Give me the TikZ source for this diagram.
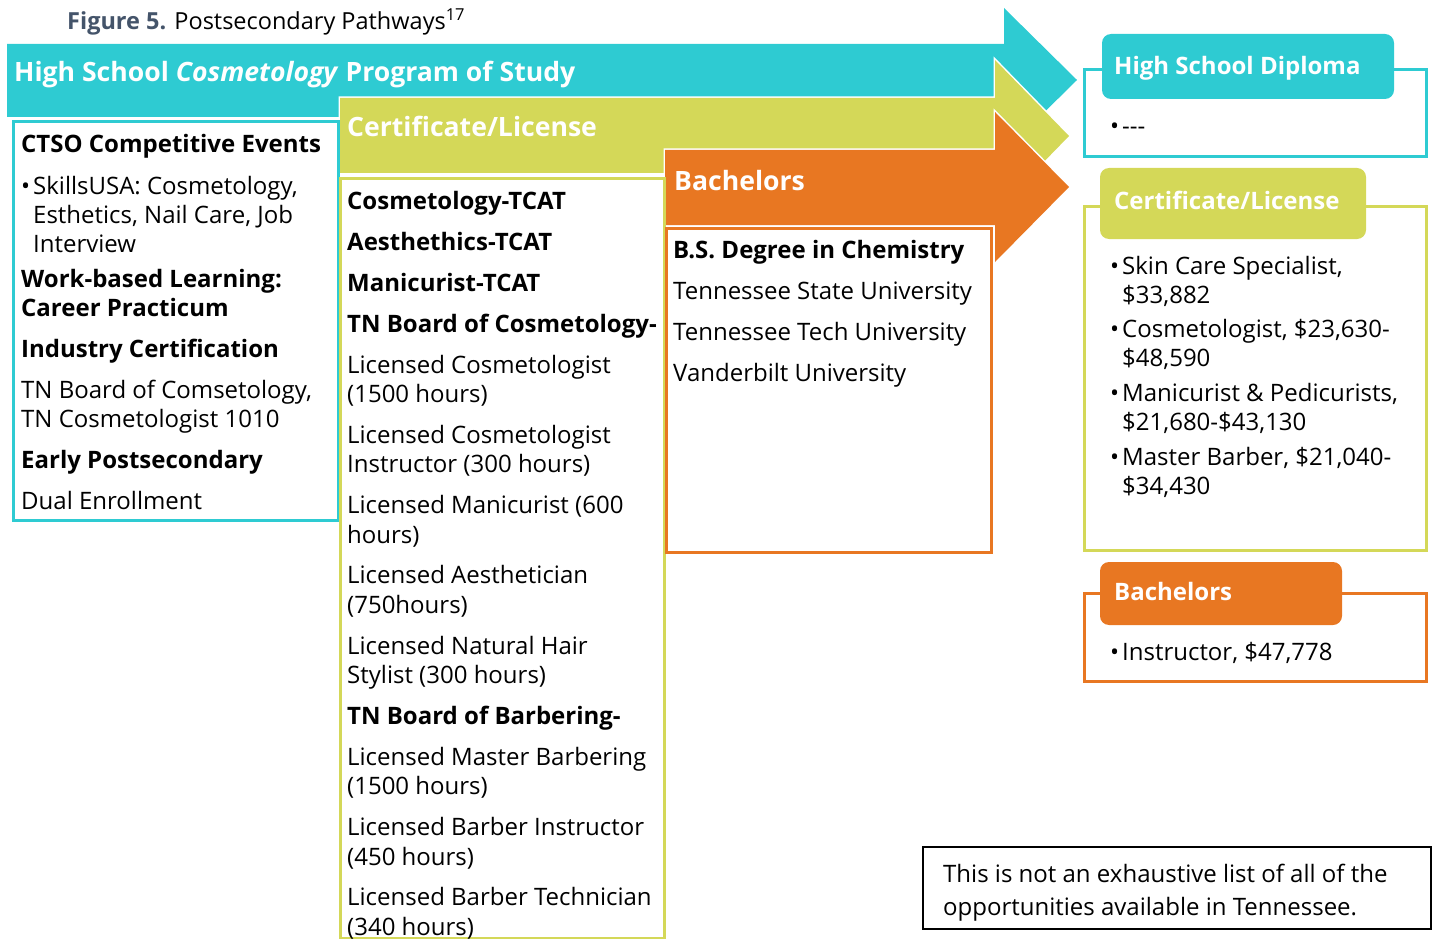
\documentclass[tikz,border=0pt]{standalone}
\usepackage{fontspec}
\setmainfont{Open Sans}
\definecolor{cteal}{HTML}{2ECBD2}
\definecolor{cgreen}{HTML}{D4D858}
\definecolor{corange}{HTML}{E87722}
\definecolor{ctitle}{HTML}{44546A}
\tikzset{
  arrowshape/.style={draw=white, line width=3pt, line join=miter},
  boxline/.style={line width=3pt, fill=white},
  body/.style={anchor=base west, inner sep=0pt, align=left, font=\fontsize{24}{29}\selectfont},
  head/.style={anchor=base west, inner sep=0pt, align=left, font=\fontsize{24}{29}\selectfont\bfseries},
  arrowtext/.style={anchor=base west, inner sep=0pt, text=white, font=\fontsize{26.6}{30}\selectfont\bfseries},
  labeltext/.style={anchor=base west, inner sep=0pt, text=white, font=\fontsize{24}{29}\selectfont\bfseries},
  labelbox/.style={rounded corners=9pt},
}
\begin{document}
\begin{tikzpicture}[x=1pt,y=-1pt]
\useasboundingbox (0,0) rectangle (1436,939);
\clip (0,0) rectangle (1436,939);
% title
\node[anchor=base west, inner sep=0pt, font=\fontsize{23.5}{27}\selectfont] (title) at (67,30)
  {\textcolor{ctitle}{\bfseries Figure 5.} Postsecondary Pathways\textsuperscript{17}};
% arrows
\fill[cteal] (7,44) -- (1004,44) -- (1004,8) -- (1077,80) -- (1004,152) -- (1004,117) -- (7,117) -- cycle;
\filldraw[arrowshape] (340,98) -- (995,98) -- (995,60) -- (1069,136) -- (995,212) -- (995,173) -- (340,173) -- cycle;
\path[fill=cgreen] (340,98) -- (995,98) -- (995,60) -- (1069,136) -- (995,212) -- (995,173) -- (340,173) -- cycle;
\filldraw[arrowshape] (665,150) -- (995,150) -- (995,112) -- (1069,187) -- (995,262) -- (995,225) -- (665,225) -- cycle;
\path[fill=corange] (665,150) -- (995,150) -- (995,112) -- (1069,187) -- (995,262) -- (995,225) -- (665,225) -- cycle;
\node[arrowtext] (hsps) at (14,82) {High School \textit{Cosmetology} Program of Study};
\node[arrowtext] (certa) at (347,137) {Certificate/License};
\node[arrowtext] (bacha) at (674,190) {Bachelors};
% left boxes
\draw[boxline, draw=cteal] (13,122) rectangle (338,520);
\draw[boxline, draw=cgreen] (340,179) rectangle (664,938);
\draw[boxline, draw=corange] (666,228) rectangle (991,552);
% teal box text (multi-line nodes: base = last line)
\node[head] (ctso) at (21,153) {CTSO Competitive Events};
\node[body] (b1) at (21,194) {•};
\node[body] (skills) at (33,252) {SkillsUSA: Cosmetology,\\Esthetics, Nail Care, Job\\Interview};
\node[head] (wbl) at (21,316) {Work-based Learning:\\Career Practicum};
\node[head] (ic) at (21,357) {Industry Certification};
\node[body] (tnb) at (21,427) {TN Board of Comsetology,\\TN Cosmetologist 1010};
\node[head] (ep) at (21,468) {Early Postsecondary};
\node[body] (de) at (21,509) {Dual Enrollment};
% green box text
\node[head] (c1) at (347,209) {Cosmetology-TCAT};
\node[head] (c2) at (347,250) {Aesthethics-TCAT};
\node[head] (c3) at (347,291) {Manicurist-TCAT};
\node[head] (c4) at (347,332) {TN Board of Cosmetology-};
\node[body] (c5) at (347,402) {Licensed Cosmetologist\\(1500 hours)};
\node[body] (c6) at (347,472) {Licensed Cosmetologist\\Instructor (300 hours)};
\node[body] (c7) at (347,543) {Licensed Manicurist (600\\[1pt]hours)};
\node[body] (c8) at (347,613) {Licensed Aesthetician\\[1pt](750hours)};
\node[body] (c9) at (347,683) {Licensed Natural Hair\\Stylist (300 hours)};
\node[head] (c10) at (347,724) {TN Board of Barbering-};
\node[body] (c11) at (347,794) {Licensed Master Barbering\\(1500 hours)};
\node[body] (c12) at (347,865) {Licensed Barber Instructor\\[1pt](450 hours)};
\node[body] (c13) at (347,935) {Licensed Barber Technician\\[1pt](340 hours)};
% orange box text
\node[head] (o1) at (673,258) {B.S. Degree in Chemistry};
\node[body] (o2) at (673,299) {Tennessee State University};
\node[body] (o3) at (673,340) {Tennessee Tech University};
\node[body] (o4) at (673,381) {Vanderbilt University};
% right: high school diploma
\draw[line width=3pt, cteal] (1084,70) rectangle (1426,157);
\fill[labelbox, cteal] (1102,34) rectangle (1394,99);
\node[labeltext] (hsd) at (1114,75) {High School Diploma};
\node[body] (rb1) at (1110,135) {•};
\node[body] (rt1) at (1122,135) {-{}-{}-};
% right: certificate
\draw[line width=3pt, cgreen] (1084,207) rectangle (1426,550);
\fill[labelbox, cgreen] (1100,168) rectangle (1366,239);
\node[labeltext] (certr) at (1114,210) {Certificate/License};
\node[body] (rb2) at (1110,274) {•};
\node[body] (rt2) at (1122,303) {Skin Care Specialist,\\\$33,882};
\node[body] (rb3) at (1110,337) {•};
\node[body] (rt3) at (1122,366) {Cosmetologist, \$23,630-\\\$48,590};
\node[body] (rb4) at (1110,401) {•};
\node[body] (rt4) at (1122,430) {Manicurist \& Pedicurists,\\\$21,680-\$43,130};
\node[body] (rb5) at (1110,465) {•};
\node[body] (rt5) at (1122,494) {Master Barber, \$21,040-\\\$34,430};
% right: bachelors
\draw[line width=3pt, corange] (1084,593) rectangle (1426,681);
\fill[labelbox, corange] (1100,562) rectangle (1342,625);
\node[labeltext] (bachr) at (1114,600) {Bachelors};
\node[body] (rb6) at (1110,660) {•};
\node[body] (rt6) at (1122,660) {Instructor, \$47,778};
% note
\draw[line width=1.5pt, black] (923,847) rectangle (1431,929);
\node[body] (note) at (943,915) {This is not an exhaustive list of all of the\\[4pt]opportunities available in Tennessee.};
\end{tikzpicture}
\end{document}
